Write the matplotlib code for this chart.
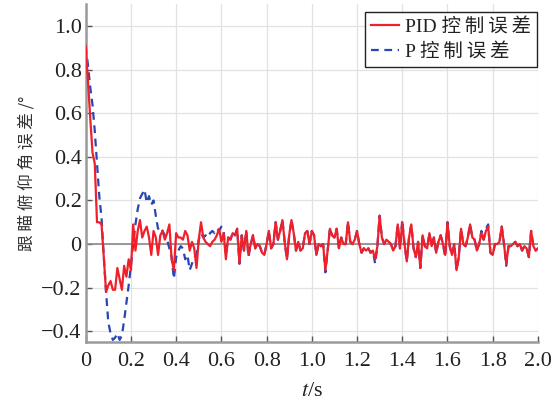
import matplotlib
matplotlib.use("Agg")
import matplotlib.pyplot as plt
import numpy as np

plt.rcParams['font.family'] = ['Liberation Serif', 'Noto Sans CJK SC', 'DejaVu Sans']
plt.rcParams['mathtext.fontset'] = 'stix'

t_step = 0.01
pid_err = [
    0.91, 0.75, 0.58, 0.42, 0.37, 0.10, 0.10, 0.09, -0.06, -0.22,
    -0.19, -0.17, -0.21, -0.21, -0.11, -0.16, -0.21, -0.10, -0.15, -0.07,
    -0.12, 0.09, -0.03, 0.06, 0.11, 0.03, 0.06, 0.08, 0.03, -0.05,
    0.06, 0.03, -0.05, 0.04, 0.06, 0.02, 0.05, 0.09, -0.07, -0.12,
    0.05, 0.03, 0.03, 0.02, 0.06, 0.04, -0.03, 0.01, -0.02, -0.11,
    0.02, 0.10, 0.03, 0.01, 0.00, -0.01, 0.01, 0.02, 0.04, 0.07,
    0.01, 0.05, -0.07, 0.03, 0.02, 0.05, 0.04, 0.07, -0.09, 0.04,
    -0.03, 0.06, -0.05, 0.00, 0.04, -0.02, 0.00, -0.01, -0.04, -0.05,
    0.00, 0.06, -0.02, 0.00, 0.10, 0.02, 0.06, 0.11, 0.01, -0.07,
    0.04, 0.11, 0.05, -0.03, 0.01, -0.03, -0.02, 0.05, 0.06, 0.00,
    0.06, 0.04, -0.05, 0.00, -0.01, 0.00, -0.12, -0.03, 0.07, 0.04,
    0.03, 0.07, -0.02, 0.03, 0.00, 0.00, 0.10, 0.01, 0.00, 0.02,
    0.06, 0.00, -0.04, -0.02, -0.03, -0.02, -0.04, -0.03, -0.07, -0.01,
    0.13, 0.03, 0.00, 0.02, 0.01, 0.00, -0.03, -0.01, 0.09, -0.02,
    0.10, 0.00, -0.08, 0.03, 0.09, -0.02, -0.06, 0.01, -0.11, 0.04,
    -0.01, -0.02, 0.05, -0.01, 0.03, -0.04, 0.01, 0.04, 0.00, -0.05,
    0.10, -0.01, -0.05, 0.00, -0.12, -0.06, 0.07, 0.00, -0.01, 0.03,
    0.09, 0.03, 0.02, -0.03, 0.00, 0.05, 0.02, 0.06, 0.08, -0.04,
    -0.05, 0.00, 0.00, 0.01, 0.08, 0.00, -0.09, -0.01, -0.01, 0.00,
    0.01, -0.01, 0.00, -0.03, -0.01, -0.02, -0.06, 0.06, -0.01, -0.03,
    -0.02,
]
p_err = [
    0.91, 0.82, 0.72, 0.64, 0.52, 0.37, 0.22, 0.12, -0.06, -0.22,
    -0.36, -0.41, -0.44, -0.43, -0.41, -0.44, -0.42, -0.35, -0.27, -0.19,
    -0.10, 0.00, 0.09, 0.16, 0.21, 0.23, 0.25, 0.19, 0.22, 0.18,
    0.20, 0.13, 0.07, 0.08, 0.06, 0.04, 0.02, -0.02, -0.06, -0.16,
    -0.06, -0.03, -0.01, -0.02, -0.07, -0.05, -0.12, -0.09, -0.06, -0.05,
    0.02, 0.05, 0.03, 0.04, 0.03, 0.05, 0.06, 0.05, 0.07, 0.06,
    0.08, 0.06, -0.05, 0.03, 0.02, 0.05, 0.04, 0.07, -0.09, 0.04,
    -0.03, 0.06, -0.06, 0.00, 0.04, -0.02, 0.00, -0.01, -0.04, -0.05,
    0.00, 0.06, -0.02, 0.00, 0.10, 0.02, 0.06, 0.11, 0.01, -0.07,
    0.04, 0.11, 0.05, -0.03, 0.01, -0.03, -0.02, 0.05, 0.06, 0.00,
    0.06, 0.04, -0.05, 0.00, -0.01, 0.00, -0.13, -0.03, 0.07, 0.04,
    0.03, 0.07, -0.02, 0.03, 0.00, 0.00, 0.10, 0.01, 0.00, 0.02,
    0.06, 0.00, -0.04, -0.02, -0.03, -0.02, -0.04, -0.03, -0.09, -0.01,
    0.13, 0.03, 0.00, 0.02, 0.01, 0.00, -0.03, -0.01, 0.09, -0.02,
    0.11, 0.00, -0.08, 0.03, 0.09, -0.02, -0.06, 0.01, -0.11, 0.04,
    -0.01, -0.02, 0.05, -0.01, 0.03, -0.04, 0.01, 0.04, 0.00, -0.06,
    0.10, -0.01, -0.05, 0.00, -0.12, -0.06, 0.07, 0.00, -0.01, 0.03,
    0.09, 0.03, 0.02, -0.03, 0.00, 0.06, 0.02, 0.07, 0.09, -0.04,
    -0.05, 0.00, 0.00, 0.01, 0.08, 0.00, -0.10, -0.01, -0.01, 0.00,
    0.01, -0.01, 0.00, -0.03, -0.01, -0.02, -0.06, 0.06, -0.01, -0.03,
    -0.02,
]
t = np.arange(len(pid_err)) * t_step

x_ticks = [0, 0.2, 0.4, 0.6, 0.8, 1.0, 1.2, 1.4, 1.6, 1.8, 2.0]
x_labels = ['0', '0.2', '0.4', '0.6', '0.8', '1.0', '1.2', '1.4', '1.6', '1.8', '2.0']
y_ticks = [-0.4, -0.2, 0, 0.2, 0.4, 0.6, 0.8, 1.0]
y_labels = ['\u22120.4', '\u22120.2', '0', '0.2', '0.4', '0.6', '0.8', '1.0']
legend_labels = ['PID 控\u2009制\u2009误\u2009差', 'P 控\u2009制\u2009误\u2009差']

fig = plt.figure(figsize=(5.58, 4.01), dpi=100)
ax = fig.add_axes([0.1536, 0.147, 0.8104, 0.842])

ax.axhline(0, color='#8a8a8a', lw=1.2, zorder=1)
lp, = ax.plot(t, p_err, color='#2846b4', lw=1.6, ls=(0, (3.5, 2.5)), zorder=2)
lpid, = ax.plot(t, pid_err, color='#f0202a', lw=1.6, zorder=3)

ax.set_xlim(0, 2.0)
ax.set_ylim(-0.45, 1.1)
ax.set_xticks(x_ticks)
ax.set_xticklabels(x_labels)
ax.set_yticks(y_ticks)
ax.set_yticklabels(y_labels)
ax.grid(True, color='#e2e2e2', lw=0.9)
ax.set_axisbelow(True)
ax.tick_params(direction='in', length=4, width=1, colors='#555555',
               labelcolor='#222222', labelsize=16)
ax.tick_params(axis='x', pad=7)
ax.tick_params(axis='y', pad=3)
for s in ['top', 'right']:
    ax.spines[s].set_visible(False)
for s in ['left', 'bottom']:
    ax.spines[s].set_color('#9a9a9a')
    ax.spines[s].set_linewidth(1.8)

ax.set_xlabel(r'$t$/s', fontsize=16, color='#222222', labelpad=8)
ax.set_ylabel('跟 瞄 俯 仰 角 误 差 /°', fontsize=12, color='#333333',
              family=['Noto Sans CJK SC', 'DejaVu Sans'], labelpad=4)

leg = ax.legend([lpid, lp], legend_labels, loc='upper right',
                bbox_to_anchor=(0.998, 0.978), borderaxespad=0,
                fontsize=14, frameon=True, fancybox=False, framealpha=1,
                edgecolor='#222222', handlelength=1.45, handletextpad=0.3,
                borderpad=0.3, labelspacing=0.3)
leg.get_frame().set_linewidth(1.0)
for txt in leg.get_texts():
    txt.set_color('#222222')

fig.savefig('out.png', dpi=100)
